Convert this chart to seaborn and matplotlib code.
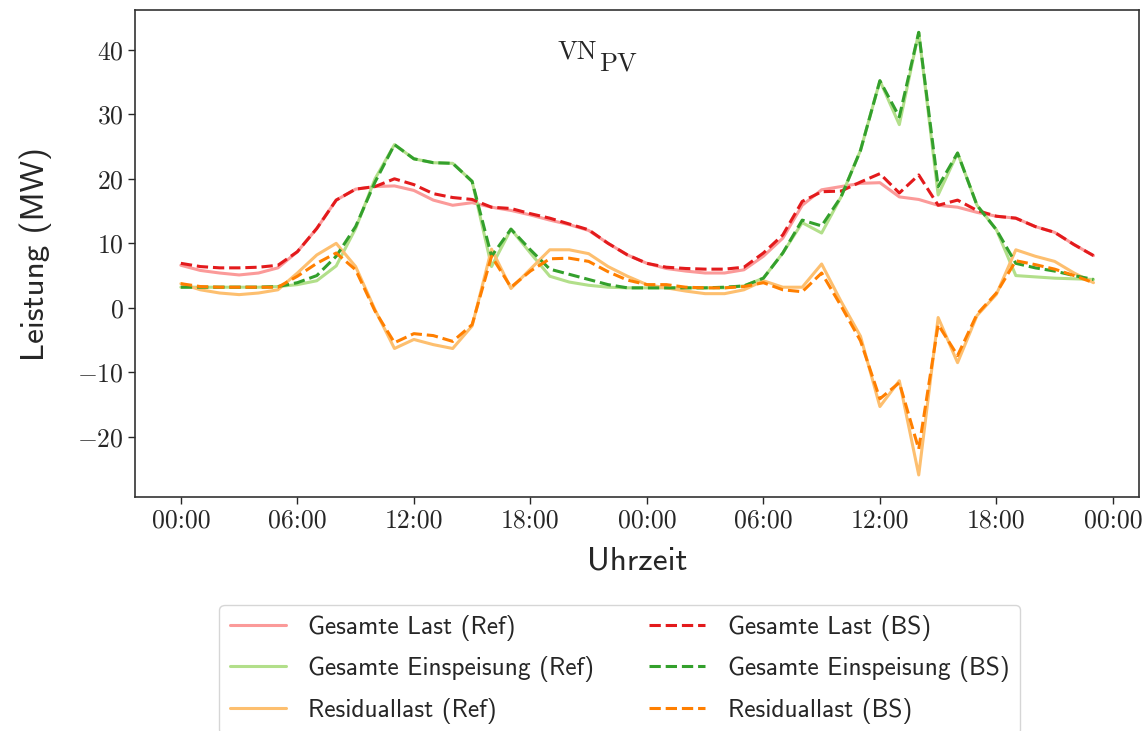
import numpy as np
import pandas as pd
import seaborn as sns
import matplotlib.pyplot as plt
import matplotlib.dates as mdates

# Stundenwerte über zwei Tage (MW)
zeit = pd.date_range("2023-06-01 00:00", periods=48, freq="h")

last_ref = [6.6, 5.8, 5.4, 5.1, 5.4, 6.2, 8.7, 12.3, 16.7, 18.4, 18.8, 18.9,
            18.2, 16.7, 15.9, 16.3, 15.6, 15.1, 14.4, 13.6, 12.9, 12.0, 10.0, 8.2,
            6.9, 6.1, 5.7, 5.4, 5.4, 5.9, 8.0, 10.8, 15.9, 18.3, 18.8, 19.3,
            19.4, 17.2, 16.8, 15.9, 15.6, 14.8, 14.2, 13.9, 12.6, 11.7, 9.8, 8.1]
last_bs = [6.9, 6.4, 6.2, 6.2, 6.3, 6.6, 8.7, 12.3, 16.7, 18.4, 18.8, 20.0,
           19.1, 17.7, 17.1, 16.8, 15.6, 15.4, 14.6, 13.9, 13.0, 12.1, 10.0, 8.2,
           6.9, 6.3, 6.1, 6.0, 6.0, 6.3, 8.5, 11.3, 16.5, 18.0, 18.1, 19.5,
           20.8, 17.8, 20.6, 15.9, 16.7, 15.1, 14.2, 13.9, 12.6, 11.7, 9.8, 8.1]
einsp_ref = [3.2, 3.2, 3.2, 3.2, 3.2, 3.3, 3.6, 4.2, 6.5, 12.3, 20.0, 25.3,
             23.1, 22.5, 22.4, 19.6, 6.4, 12.2, 8.5, 4.9, 4.0, 3.5, 3.2, 3.1,
             3.1, 3.1, 3.1, 3.1, 3.1, 3.4, 4.6, 8.5, 13.2, 11.6, 17.2, 24.4,
             35.2, 28.4, 42.7, 17.5, 24.0, 15.9, 12.1, 5.0, 4.8, 4.6, 4.5, 4.4]
einsp_bs = [3.2, 3.2, 3.2, 3.2, 3.2, 3.3, 3.9, 5.0, 8.0, 12.6, 19.5, 25.3,
            23.1, 22.5, 22.4, 19.6, 8.0, 12.2, 9.0, 6.0, 5.2, 4.4, 3.6, 3.1,
            3.1, 3.1, 3.1, 3.1, 3.2, 3.4, 4.6, 8.5, 13.6, 12.7, 17.2, 24.4,
            35.2, 29.6, 42.7, 18.8, 24.0, 15.9, 12.1, 6.9, 6.2, 5.7, 5.0, 4.4]
resid_ref = [3.75, 2.8, 2.3, 2.05, 2.3, 2.8, 5.4, 8.2, 10.0, 6.4, -0.3, -6.3,
             -4.9, -5.7, -6.3, -2.8, 9.1, 3.0, 6.0, 9.0, 9.0, 8.4, 6.4, 4.9,
             3.6, 3.1, 2.6, 2.2, 2.2, 2.8, 4.2, 3.2, 3.2, 6.8, 1.0, -4.4,
             -15.3, -11.3, -25.9, -1.5, -8.5, -1.2, 2.1, 9.0, 8.0, 7.2, 5.4, 3.9]
resid_bs = [3.75, 3.3, 3.2, 3.2, 3.2, 3.2, 4.9, 6.9, 8.5, 5.9, -0.5, -5.4,
            -4.0, -4.3, -5.2, -2.6, 8.0, 3.2, 5.7, 7.6, 7.7, 7.2, 5.6, 4.3,
            3.6, 3.6, 3.2, 3.1, 3.1, 3.3, 3.9, 2.8, 2.5, 5.4, 0.3, -5.1,
            -14.1, -11.6, -21.9, -2.6, -7.4, -1.0, 2.3, 7.3, 6.7, 6.0, 5.0, 3.9]

sns.set_style("ticks")
plt.rcParams["font.family"] = "serif"
plt.rcParams["font.serif"] = ["cmr10", "DejaVu Serif"]
plt.rcParams["mathtext.fontset"] = "cm"
plt.rcParams["axes.formatter.use_mathtext"] = True

pal = sns.color_palette("Paired")

reihen = [
    ("Gesamte Last (Ref)", last_ref, pal[4], "-"),
    ("Gesamte Einspeisung (Ref)", einsp_ref, pal[2], "-"),
    ("Residuallast (Ref)", resid_ref, pal[6], "-"),
    ("Gesamte Last (BS)", last_bs, pal[5], "--"),
    ("Gesamte Einspeisung (BS)", einsp_bs, pal[3], "--"),
    ("Residuallast (BS)", resid_bs, pal[7], "--"),
]

fig, ax = plt.subplots(figsize=(11.46, 7.31), dpi=100)
fig.subplots_adjust(left=0.118, right=0.994, top=0.986, bottom=0.32)

for name, werte, farbe, stil in reihen:
    sns.lineplot(x=zeit, y=werte, ax=ax, color=farbe, linestyle=stil,
                 linewidth=2.2, label=name)

ax.xaxis.set_major_locator(mdates.HourLocator(byhour=[0, 6, 12, 18]))
ax.xaxis.set_major_formatter(mdates.DateFormatter("%H:%M"))
ax.tick_params(axis="both", labelsize=18.5, length=5, width=1)

for sp in ax.spines.values():
    sp.set_visible(True)
    sp.set_color("#333333")
    sp.set_linewidth(1.2)

ax.set_xlabel("Uhrzeit", fontsize=24, fontfamily="cmss10", labelpad=10)
ax.set_ylabel("Leistung (MW)", fontsize=24, fontfamily="cmss10", labelpad=18)

# Titel: VN mit gleich grossem, tiefgestelltem PV
vn = ax.text(0.460, 0.901, "VN", transform=ax.transAxes, ha="right",
             va="baseline", fontsize=19)
ax.text(0.462, 0.877, "PV", transform=ax.transAxes, ha="left",
        va="baseline", fontsize=19)

ax.legend(loc="upper center", bbox_to_anchor=(0.5406, 0.1724),
          bbox_transform=fig.transFigure, ncol=2, borderaxespad=0,
          prop={"family": "cmss10", "size": 18.3}, handlelength=2.2,
          handletextpad=0.9, columnspacing=2.15, labelspacing=0.6,
          borderpad=0.4)

plt.savefig("out.png", dpi=100)
